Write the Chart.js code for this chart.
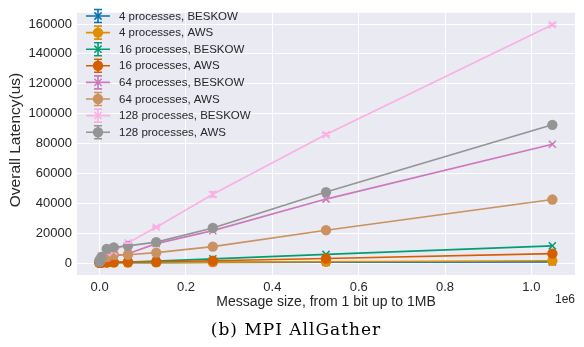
<!DOCTYPE html>
<html><head><meta charset="utf-8">
<script src="https://cdn.jsdelivr.net/npm/chart.js@4"></script>
<style>html,body{margin:0;padding:0;background:#fff}#w{width:584px;height:347px;position:relative}</style>
</head><body><div id="w"><canvas id="c" width="584" height="347"></canvas></div>
<script>
const messageSizes = [1, 16, 256, 4096, 16384, 32768, 65536, 131072, 262144, 524288, 1048576];
const beskow4  = [5, 10, 20, 60, 100, 150, 220, 300, 450, 500, 800];
const aws4     = [100, 120, 150, 200, 250, 300, 350, 450, 600, 900, 1500];
const beskow16 = [20, 40, 60, 150, 250, 400, 700, 1300, 2800, 5800, 11500];
const aws16    = [200, 250, 300, 400, 500, 600, 700, 900, 1500, 3000, 6300];
const beskow64 = [800, 1000, 1200, 2000, 3500, 4500, 6200, 13000, 21700, 42800, 79500];
const aws64    = [1500, 1800, 2000, 3000, 4000, 5500, 5600, 7000, 11000, 22000, 42500];
const beskow128 = [1000, 1500, 2500, 5000, 7000, 7700, 13500, 24000, 46000, 86000, 159500];
const aws128   = [800, 1000, 1500, 4000, 9500, 10500, 11500, 14000, 23500, 47500, 92500];
const beskow128Err = [0, 0, 0, 0, 0, 0, 300, 600, 1800, 800, 800];
const seriesLabels = ['4 processes, BESKOW','4 processes, AWS','16 processes, BESKOW','16 processes, AWS','64 processes, BESKOW','64 processes, AWS','128 processes, BESKOW','128 processes, AWS'];
const seriesValues = [beskow4, aws4, beskow16, aws16, beskow64, aws64, beskow128, aws128];
const seriesErrors = [null, null, null, null, null, null, beskow128Err, null];
const colors = ['#0173b2','#de8f05','#029e73','#d55e00','#cc78bc','#ca9161','#fbafe4','#949494'];
const xTicks = [0, 200000, 400000, 600000, 800000, 1000000];
const yTicks = [0, 20000, 40000, 60000, 80000, 100000, 120000, 140000, 160000];

const SANS = '"Liberation Sans", Arial, sans-serif';

const datasets = seriesLabels.map((lab, i) => {
  const isB = lab.indexOf('BESKOW') >= 0;
  return {
    label: lab,
    data: messageSizes.map((x, j) => ({x: x, y: seriesValues[i][j]})),
    errors: seriesErrors[i],
    borderColor: colors[i],
    backgroundColor: colors[i],
    borderWidth: 1.6,
    pointStyle: isB ? 'crossRot' : 'circle',
    pointRadius: isB ? 5 : 5.2,
    pointBorderWidth: isB ? 1.5 : 0,
    pointHoverRadius: 5,
    tension: 0,
    order: -i
  };
});

const bgPlugin = {
  id: 'bg',
  beforeDraw(chart) {
    const {ctx, chartArea: a} = chart;
    ctx.save();
    ctx.fillStyle = '#eaeaf2';
    ctx.fillRect(a.left, a.top, a.right - a.left, a.bottom - a.top);
    ctx.restore();
  }
};

const errPlugin = {
  id: 'errbars',
  afterDatasetsDraw(chart) {
    const ctx = chart.ctx, xs = chart.scales.x, ys = chart.scales.y;
    chart.data.datasets.forEach(ds => {
      if (!ds.errors) return;
      ctx.save();
      ctx.strokeStyle = ds.borderColor;
      ctx.lineWidth = 1.5;
      ds.data.forEach((p, j) => {
        const e = ds.errors[j];
        if (!e) return;
        const px = xs.getPixelForValue(p.x);
        const y1 = ys.getPixelForValue(p.y - e), y2 = ys.getPixelForValue(p.y + e);
        ctx.beginPath();
        ctx.moveTo(px, y1); ctx.lineTo(px, y2);
        ctx.moveTo(px - 4, y1); ctx.lineTo(px + 4, y1);
        ctx.moveTo(px - 4, y2); ctx.lineTo(px + 4, y2);
        ctx.stroke();
      });
      ctx.restore();
    });
  }
};

const decorPlugin = {
  id: 'decor',
  afterDraw(chart) {
    const ctx = chart.ctx, a = chart.chartArea;
    ctx.save();
    ctx.fillStyle = '#262626';
    ctx.textAlign = 'center';
    ctx.textBaseline = 'middle';
    ctx.save();
    ctx.font = '15.5px ' + SANS;
    ctx.translate(16, 140);
    ctx.rotate(-Math.PI / 2);
    ctx.fillText('Overall Latency(us)', 0, 0);
    ctx.restore();
    ctx.font = '14px ' + SANS;
    ctx.fillText('Message size, from 1 bit up to 1MB', (a.left + a.right) / 2, 302);
    ctx.font = '12px ' + SANS;
    ctx.textAlign = 'right';
    ctx.fillText('1e6', a.right, 300);
    ctx.fillStyle = '#000';
    ctx.font = '17px "DejaVu Serif", "Liberation Serif", serif';
    ctx.textAlign = 'center';
    try { ctx.letterSpacing = '1px'; } catch (e) {}
    ctx.fillText('(b) MPI AllGather', 296, 331);
    try { ctx.letterSpacing = '0px'; } catch (e) {}
    ctx.font = '11.5px ' + SANS;
    ctx.textAlign = 'left';
    chart.data.datasets.forEach((ds, i) => {
      const cy = 16 + i * 16.6;
      const cx = 98;
      ctx.strokeStyle = ds.borderColor;
      ctx.fillStyle = ds.borderColor;
      ctx.lineWidth = 1.6;
      ctx.beginPath();
      ctx.moveTo(86, cy); ctx.lineTo(110, cy);
      ctx.moveTo(cx, cy - 6.5); ctx.lineTo(cx, cy + 6.5);
      ctx.moveTo(cx - 4, cy - 6.5); ctx.lineTo(cx + 4, cy - 6.5);
      ctx.moveTo(cx - 4, cy + 6.5); ctx.lineTo(cx + 4, cy + 6.5);
      ctx.stroke();
      if (ds.pointStyle === 'circle') {
        ctx.beginPath(); ctx.arc(cx, cy, 5.2, 0, Math.PI * 2); ctx.fill();
      } else {
        ctx.lineWidth = 1.5;
        ctx.beginPath();
        ctx.moveTo(cx - 3.6, cy - 3.6); ctx.lineTo(cx + 3.6, cy + 3.6);
        ctx.moveTo(cx + 3.6, cy - 3.6); ctx.lineTo(cx - 3.6, cy + 3.6);
        ctx.stroke();
      }
      ctx.fillStyle = '#262626';
      ctx.textBaseline = 'middle';
      ctx.fillText(ds.label, 119, cy + 0.5);
    });
    ctx.restore();
  }
};

new Chart(document.getElementById('c'), {
  type: 'line',
  data: {datasets: datasets},
  options: {
    responsive: false,
    animation: false,
    devicePixelRatio: 1,
    layout: {padding: {left: 0, right: 9, top: 2, bottom: 0}},
    plugins: {legend: {display: false}, tooltip: {enabled: false}},
    scales: {
      x: {
        type: 'linear',
        min: -52428, max: 1101004,
        afterBuildTicks(s) { s.ticks = xTicks.map(v => ({value: v})); },
        afterFit(s) { s.height = 72; },
        grid: {color: '#ffffff', lineWidth: 1, drawTicks: false},
        border: {display: false},
        ticks: {
          padding: 5, color: '#262626', font: {size: 13, family: SANS},
          maxRotation: 0,
          callback: v => (v / 1e6).toFixed(1)
        }
      },
      y: {
        type: 'linear',
        min: -8000, max: 167500,
        afterBuildTicks(s) { s.ticks = yTicks.map(v => ({value: v})); },
        afterFit(s) { s.width = 77; },
        grid: {color: '#ffffff', lineWidth: 1, drawTicks: false},
        border: {display: false},
        ticks: {
          padding: 5, color: '#262626', font: {size: 13, family: SANS},
          callback: v => String(v)
        }
      }
    }
  },
  plugins: [bgPlugin, errPlugin, decorPlugin]
});
</script>
</body></html>
